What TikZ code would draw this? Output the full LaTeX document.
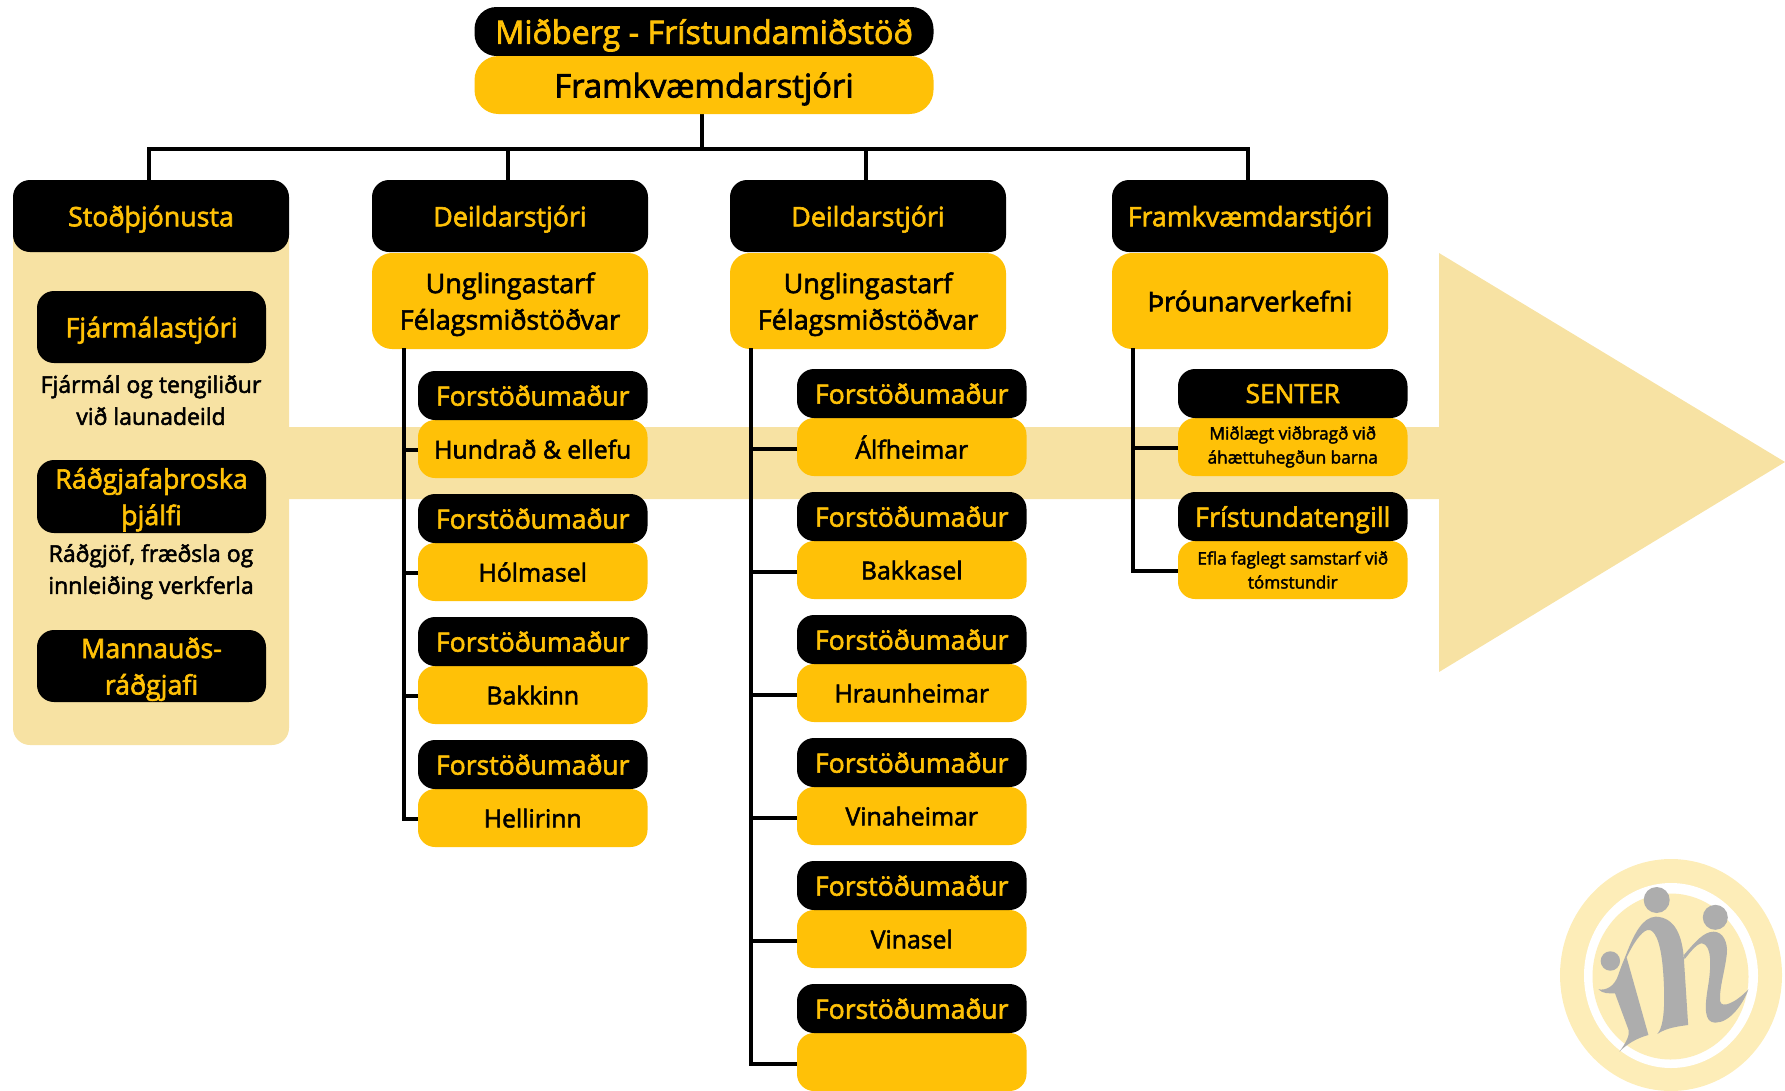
\documentclass[tikz,border=0pt]{standalone}
\usepackage{fontspec}
\setmainfont[RawFeature={embolden=2.2}]{Open Sans}
\definecolor{ylw}{HTML}{FFC107}
\definecolor{pale}{HTML}{F7E2A3}
\definecolor{logopale}{HTML}{FDEDB8}
\definecolor{logogray}{HTML}{ADADAD}
\newcommand{\fsz}[2]{\fontsize{#1}{#2}\selectfont}
\tikzset{
  box/.style={inner sep=0pt,outer sep=0pt,anchor=north west,align=center,rounded corners=17pt,text depth=0pt},
  blackbox/.style={box,fill=black,text=ylw},
  yellowbox/.style={box,fill=ylw,text=black},
  wide/.style={minimum width=276pt},
  sub/.style={minimum width=229.5pt},
  head/.style={minimum height=49pt,font=\fsz{26.6}{32}},
  low/.style={minimum height=58pt,font=\fsz{24.8}{32}},
  lowsmall/.style={minimum height=58pt,font=\fsz{17.2}{24},text depth=},
  conn/.style={line width=4pt,draw=black},
  note/.style={inner sep=0pt,align=center,text=black,text depth=0pt,font=\fsz{23}{32}},
  panel/.style={inner sep=0pt,outer sep=0pt,anchor=north west,fill=pale,rounded corners=17pt,minimum width=276pt,minimum height=530pt}
}
\begin{document}
\begin{tikzpicture}[x=1pt,y=-1pt]
\useasboundingbox (0,0) rectangle (1785,1090);
\clip (0,0) rectangle (1785,1090);
% big arrow
\fill[pale] (285,427) -- (1439,427) -- (1439,253) -- (1785,462) -- (1439,672) -- (1439,499) -- (285,499) -- cycle;
% stoð panel
\node[panel] (panel) at (13,215) {};
% logo
\fill[logopale] (1671,975) ellipse [x radius=111,y radius=116];
\fill[white] (1671,975.5) ellipse [x radius=87,y radius=92.5];
\fill[logopale] (1670.5,976.5) ellipse [x radius=78,y radius=83];
\begin{scope}[shift={(1520,830)},x=0.331pt,y=-0.3333pt]
\fill[logogray] (413,210) circle (13pt);
\fill[logogray] (590,262) circle (12.5pt);
\fill[logogray] (273,393) circle (9.7pt);
\fill[logogray] (300,665) .. controls (320,640) and (332,615) .. (328,600) -- (287,490)
  .. controls (270,490) and (250,492) .. (237,478)
  .. controls (260,482) and (285,470) .. (297,435)
  .. controls (305,410) and (312,395) .. (320,375)
  .. controls (345,310) and (370,262) .. (410,260)
  .. controls (470,262) and (490,320) .. (495,385)
  -- (508,585)
  .. controls (470,590) and (440,595) .. (415,612)
  .. controls (435,590) and (440,520) .. (432,420)
  .. controls (425,330) and (405,295) .. (385,300)
  .. controls (365,305) and (340,345) .. (322,382)
  -- (388,615)
  .. controls (350,625) and (320,645) .. (300,665) -- cycle;
\fill[logogray] (495,375) .. controls (530,335) and (555,305) .. (585,305)
  .. controls (615,305) and (628,340) .. (625,370)
  .. controls (620,420) and (600,480) .. (605,515)
  .. controls (610,535) and (650,520) .. (690,478)
  .. controls (675,520) and (635,578) .. (590,578)
  .. controls (555,578) and (558,530) .. (568,470)
  .. controls (578,410) and (580,345) .. (550,340)
  .. controls (535,340) and (515,365) .. (497,388) -- cycle;
\end{scope}
% coordinates of connectors
\coordinate (bus) at (702,149);
\coordinate (col2) at (403.5,348);
\coordinate (col3) at (751,348);
\coordinate (col4) at (1133,348);
% top
\node[blackbox,minimum width=459pt,minimum height=49pt,rounded corners=22pt,font=\fsz{32.3}{36}] (topb) at (474.5,7) {Miðberg - Frístundamiðstöð};
% heads
\node[blackbox,wide,minimum height=72pt,font=\fsz{26.8}{32}] (d1) at (13,180) {Stoðþjónusta};
\node[blackbox,wide,minimum height=72pt,font=\fsz{26.8}{32}] (d2) at (372,180) {Deildarstjóri};
\node[blackbox,wide,minimum height=72pt,font=\fsz{26.8}{32}] (d3) at (730,180) {Deildarstjóri};
\node[blackbox,wide,minimum height=72pt,font=\fsz{26.8}{32}] (d4) at (1112,180) {Framkvæmdarstjóri};
% connectors
\draw[conn] (bus) -- (702,113);
\draw[conn,line cap=rect] ([xshift=-2pt]d1.north) |- (bus);
\draw[conn] ([xshift=-2pt]d2.north) |- (bus);
\draw[conn] ([xshift=-2pt]d3.north) |- (bus);
\draw[conn,line cap=rect] ([xshift=-2pt]d4.north) |- (bus);
% top yellow
\node[yellowbox,minimum width=459pt,minimum height=58pt,rounded corners=24pt,font=\fsz{32.8}{36}] (topy) at (474.5,56) {Framkvæmdarstjóri};
% yellow heads
\node[yellowbox,wide,minimum height=96pt,rounded corners=20pt,font=\fsz{27}{36.5}] (u2) at (372,253) {Unglingastarf\\Félagsmiðstöðvar};
\node[yellowbox,wide,minimum height=96pt,rounded corners=20pt,font=\fsz{27}{36.5}] (u3) at (730,253) {Unglingastarf\\Félagsmiðstöðvar};
\node[yellowbox,wide,minimum height=96pt,rounded corners=20pt,font=\fsz{27.2}{36.5}] (u4) at (1112,253) {Þróunarverkefni};
% stoð contents
\node[blackbox,minimum width=229pt,minimum height=72pt,font=\fsz{27}{36.5}] (s1) at (37,291) {Fjármálastjóri};
\node[note,anchor=center] (n1) at (151,400) {Fjármál og tengiliður\\við launadeild};
\node[blackbox,minimum width=229pt,minimum height=73pt,font=\fsz{26.8}{36.5}] (s2) at (37,460) {Ráðgjafaþroska\\þjálfi};
\node[note,anchor=center] (n2) at (151,569) {Ráðgjöf, fræðsla og\\innleiðing verkferla};
\node[blackbox,minimum width=229pt,minimum height=72pt,font=\fsz{26.8}{36.5}] (s3) at (37,630) {Mannauðs-\\ráðgjafi};
% column 2
\node[yellowbox,sub,low] (h1) at (418,420) {Hundrað \& ellefu};
\node[yellowbox,sub,low] (h2) at (418,543) {Hólmasel};
\node[yellowbox,sub,low] (h3) at (418,666) {Bakkinn};
\node[yellowbox,sub,low] (h4) at (418,789) {Hellirinn};
\node[blackbox,sub,head] (f1) at (418,371) {Forstöðumaður};
\node[blackbox,sub,head] (f2) at (418,494) {Forstöðumaður};
\node[blackbox,sub,head] (f3) at (418,617) {Forstöðumaður};
\node[blackbox,sub,head] (f4) at (418,740) {Forstöðumaður};
\draw[conn] (col2) |- ([yshift=-1pt]h4.west);
\foreach \k in {h1,h2,h3}{
  \draw[conn] ([yshift=-1pt]\k.west) -| (col2);
}
% column 3
\node[yellowbox,sub,low] (k1) at (797,418) {Álfheimar};
\node[yellowbox,sub,low] (k2) at (797,541) {Bakkasel};
\node[yellowbox,sub,low] (k3) at (797,664) {Hraunheimar};
\node[yellowbox,sub,low] (k4) at (797,787) {Vinaheimar};
\node[yellowbox,sub,low] (k5) at (797,910) {Vinasel};
\node[yellowbox,sub,low] (k6) at (797,1033) {};
\node[blackbox,sub,head] (g1) at (797,369) {Forstöðumaður};
\node[blackbox,sub,head] (g2) at (797,492) {Forstöðumaður};
\node[blackbox,sub,head] (g3) at (797,615) {Forstöðumaður};
\node[blackbox,sub,head] (g4) at (797,738) {Forstöðumaður};
\node[blackbox,sub,head] (g5) at (797,861) {Forstöðumaður};
\node[blackbox,sub,head] (g6) at (797,984) {Forstöðumaður};
\draw[conn] (col3) |- ([yshift=-2pt]k6.west);
\foreach \k in {k1,k2,k3,k4,k5}{
  \draw[conn] ([yshift=-2pt]\k.west) -| (col3);
}
% column 4
\node[yellowbox,sub,lowsmall] (m1) at (1178,418) {Miðlægt viðbragð við\\áhættuhegðun barna};
\node[yellowbox,sub,lowsmall] (m2) at (1178,541) {Efla faglegt samstarf við\\tómstundir};
\node[blackbox,sub,head,font=\fsz{26.3}{32}] (e1) at (1178,369) {SENTER};
\node[blackbox,sub,head,font=\fsz{27}{32}] (e2) at (1178,492) {Frístundatengill};
\draw[conn] (col4) |- ([yshift=-1pt]m2.west);
\draw[conn] ([yshift=-1pt]m1.west) -| (col4);
\end{tikzpicture}
\end{document}
